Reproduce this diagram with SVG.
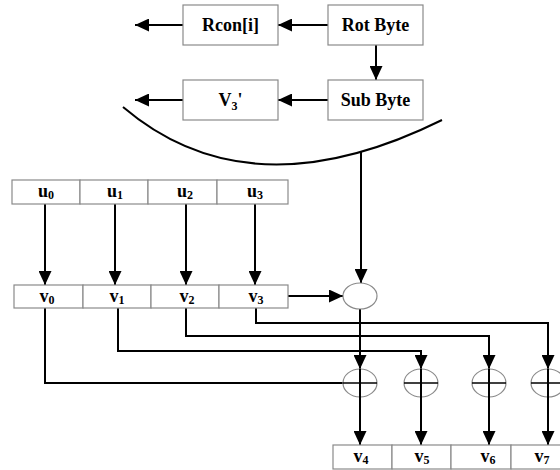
<svg xmlns="http://www.w3.org/2000/svg" width="560" height="470" viewBox="0 0 560 470">
<defs>
<marker id="ah" viewBox="0 0 14 13" refX="14" refY="6.5" markerWidth="14" markerHeight="13" markerUnits="userSpaceOnUse" orient="auto">
<path d="M0,0 L14,6.5 L0,13 z" fill="#000"/>
</marker>
<style>
.box{fill:#fff;stroke:#8a8a8a;stroke-width:1.2}
.ell{fill:#fff;stroke:#8a8a8a;stroke-width:1.2}
.ln{fill:none;stroke:#000;stroke-width:2}
.ar{fill:none;stroke:#000;stroke-width:2;marker-end:url(#ah)}
.bar{stroke:#000;stroke-width:1.5}
.t{font-family:"Liberation Serif",serif;font-weight:bold;font-size:18px;fill:#000;text-anchor:middle}
.s{font-size:12px}
</style>
</defs>
<rect width="560" height="470" fill="#fff"/>

<g id="connectors">
<path class="ar" d="M328,25 L278,25"/>
<path class="ar" d="M183,25 L135,25"/>
<path class="ar" d="M376,45 L376,80"/>
<path class="ar" d="M328,100 L278,100"/>
<path class="ar" d="M183,100 L135,100"/>
<path class="ln" d="M123,107 Q250,215 442,120" stroke-width="1.6"/>
<path class="ar" d="M361,152 L361,283"/>
<path class="ar" d="M45,204 L45,285"/>
<path class="ar" d="M115,204 L115,285"/>
<path class="ar" d="M186,204 L186,285"/>
<path class="ar" d="M255,204 L255,285"/>
<path class="ar" d="M288,296 L343,296"/>
<path class="ar" d="M360,309 L360,369"/>
<path class="ln" d="M45,308 L45,383 L343,383"/>
<path class="ar" d="M118,308 L118,351 L421,351 L421,369"/>
<path class="ar" d="M186,308 L186,336 L489,336 L489,369"/>
<path class="ar" d="M256,308 L256,323 L548,323 L548,369"/>
</g>

<g id="rcon"><rect class="box" x="183" y="5" width="95" height="40"/><text class="t" x="230.5" y="31">Rcon[i]</text></g>
<g id="rotbyte"><rect class="box" x="328" y="5" width="95" height="40"/><text class="t" x="375.5" y="31">Rot Byte</text></g>
<g id="v3p"><rect class="box" x="183" y="80" width="95" height="40"/><text class="t" x="230.5" y="106">V<tspan class="s" dy="4">3</tspan><tspan dy="-4">'</tspan></text></g>
<g id="subbyte"><rect class="box" x="328" y="80" width="95" height="40"/><text class="t" x="375.5" y="106">Sub Byte</text></g>

<g id="u0"><rect class="box" x="12" y="180" width="68" height="24"/><text class="t" x="46" y="197">u<tspan class="s" dy="2">0</tspan></text></g>
<g id="u1"><rect class="box" x="80" y="180" width="68" height="24"/><text class="t" x="115" y="197">u<tspan class="s" dy="2">1</tspan></text></g>
<g id="u2"><rect class="box" x="148" y="180" width="69" height="24"/><text class="t" x="185" y="197">u<tspan class="s" dy="2">2</tspan></text></g>
<g id="u3"><rect class="box" x="217" y="180" width="71" height="24"/><text class="t" x="255" y="197">u<tspan class="s" dy="2">3</tspan></text></g>

<g id="v0"><rect class="box" x="14" y="285" width="69" height="23"/><text class="t" x="47" y="302">v<tspan class="s" dy="2">0</tspan></text></g>
<g id="v1"><rect class="box" x="83" y="285" width="68" height="23"/><text class="t" x="117" y="302">v<tspan class="s" dy="2">1</tspan></text></g>
<g id="v2"><rect class="box" x="151" y="285" width="68" height="23"/><text class="t" x="187" y="302">v<tspan class="s" dy="2">2</tspan></text></g>
<g id="v3"><rect class="box" x="219" y="285" width="69" height="23"/><text class="t" x="256" y="302">v<tspan class="s" dy="2">3</tspan></text></g>

<g id="add"><ellipse class="ell" cx="360" cy="296" rx="17" ry="13"/></g>

<g id="xor1"><ellipse class="ell" cx="360" cy="383" rx="17" ry="14"/><line class="bar" x1="343" y1="383" x2="377" y2="383"/><path class="ar" d="M360,369 L360,445"/></g>
<g id="xor2"><ellipse class="ell" cx="421" cy="383" rx="17" ry="14"/><line class="bar" x1="404" y1="383" x2="438" y2="383"/><path class="ar" d="M421,369 L421,445"/></g>
<g id="xor3"><ellipse class="ell" cx="489" cy="383" rx="17" ry="14"/><line class="bar" x1="472" y1="383" x2="506" y2="383"/><path class="ar" d="M489,369 L489,445"/></g>
<g id="xor4"><ellipse class="ell" cx="548" cy="383" rx="17" ry="14"/><line class="bar" x1="531" y1="383" x2="565" y2="383"/><path class="ar" d="M548,369 L548,445"/></g>

<g id="v4"><rect class="box" x="333" y="445" width="59" height="24"/><text class="t" x="361" y="462">v<tspan class="s" dy="2">4</tspan></text></g>
<g id="v5"><rect class="box" x="392" y="445" width="59" height="24"/><text class="t" x="422" y="462">v<tspan class="s" dy="2">5</tspan></text></g>
<g id="v6"><rect class="box" x="451" y="445" width="60" height="24"/><text class="t" x="488" y="462">v<tspan class="s" dy="2">6</tspan></text></g>
<g id="v7"><rect class="box" x="511" y="445" width="60" height="24"/><text class="t" x="542" y="462">v<tspan class="s" dy="2">7</tspan></text></g>
</svg>
